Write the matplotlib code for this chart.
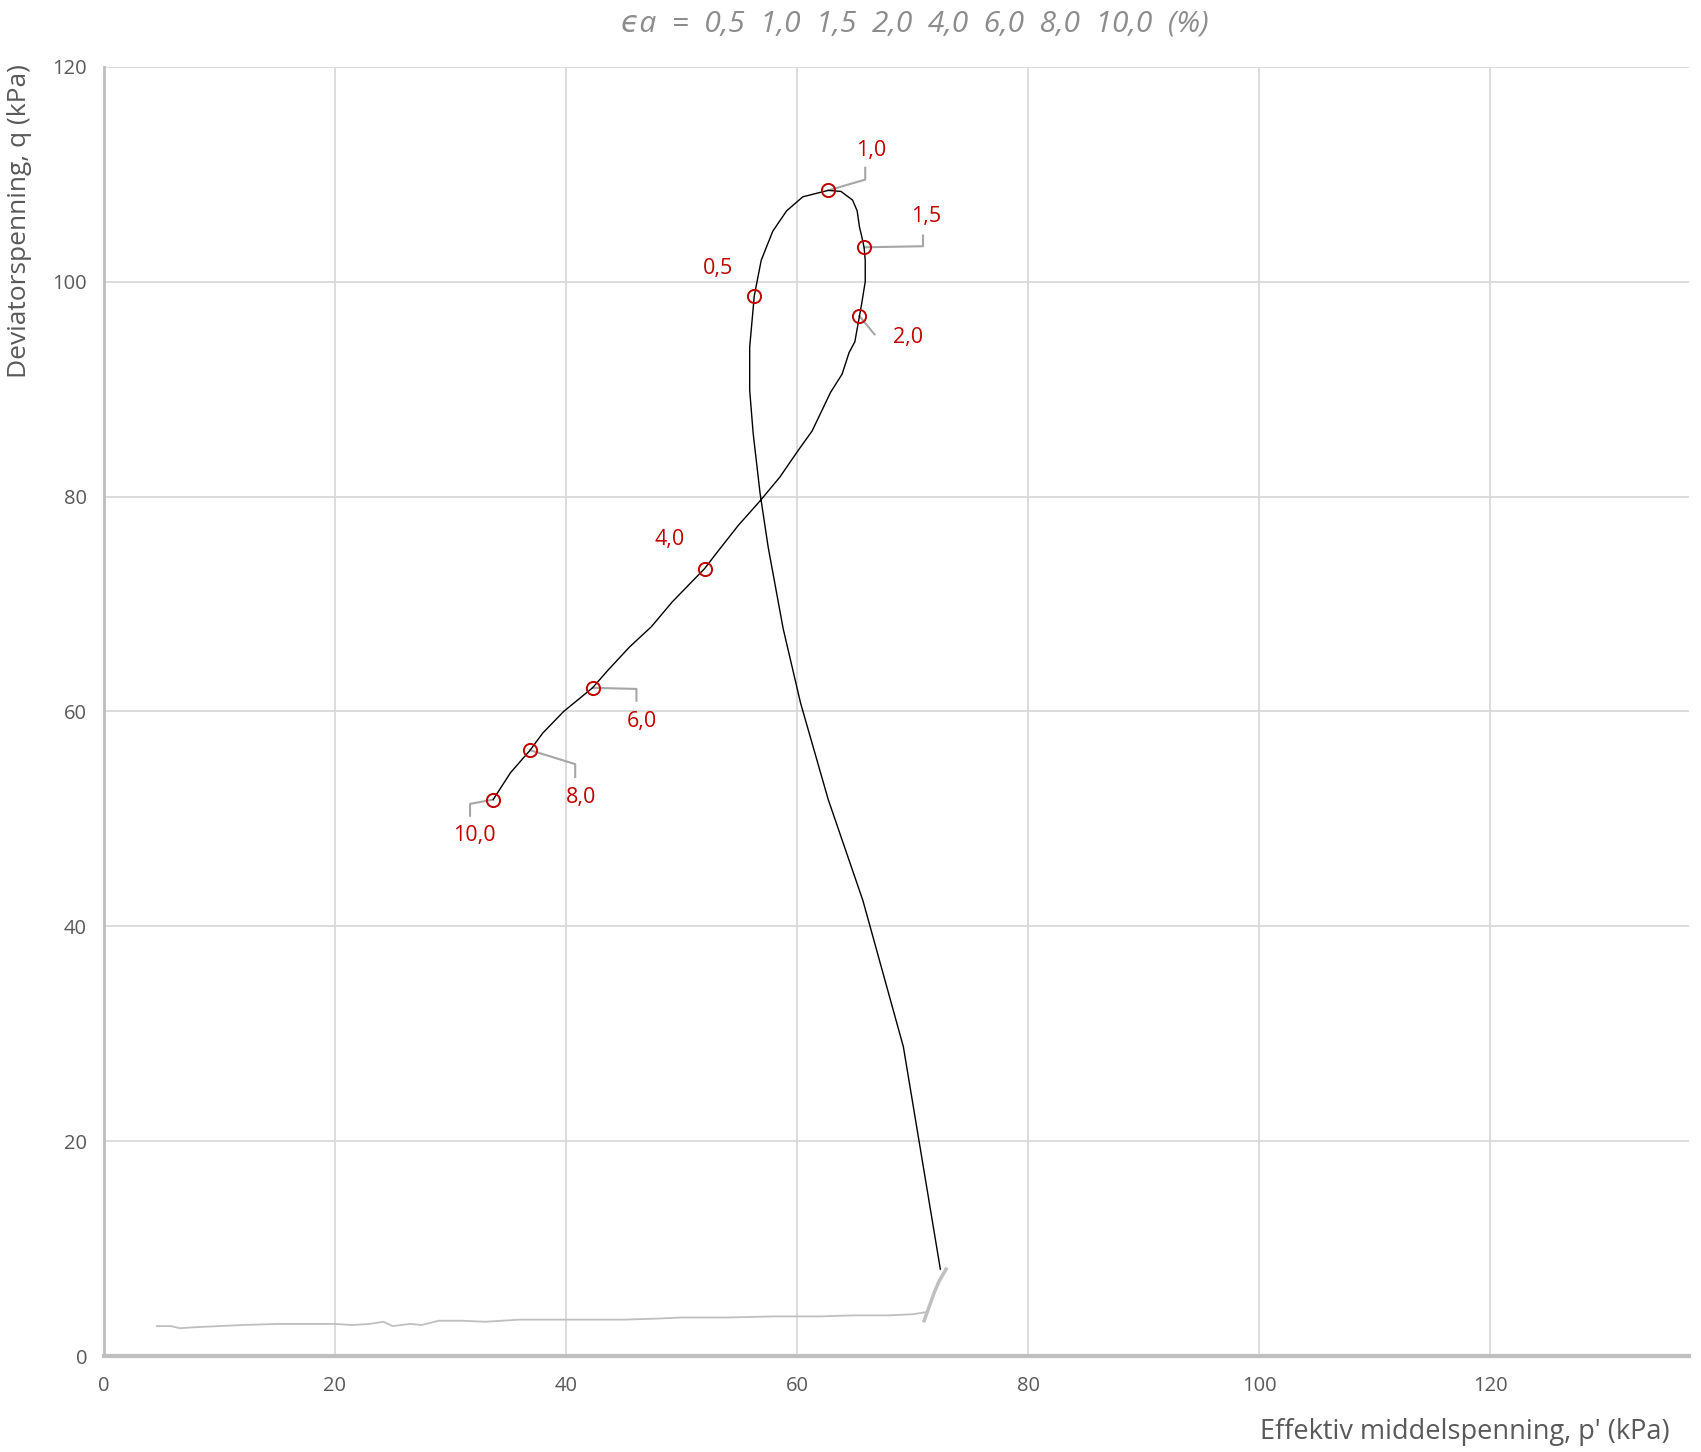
import numpy as np
import matplotlib
matplotlib.use("Agg")
from matplotlib import pyplot as plt

plt.rcParams['font.family'] = ['Open Sans', 'DejaVu Sans']

# effective stress path (black)
p_path = [72.4, 69.2, 65.7, 62.7, 60.3, 58.8, 57.5, 56.8, 56.2, 55.9, 55.9, 56.2, 56.3,
          56.9, 57.9, 59.1, 60.5, 62.7, 63.8, 64.8, 65.2, 65.4, 65.6, 65.8, 65.9, 65.9,
          65.6, 65.4, 65.0, 64.5, 63.9, 62.9, 62.1, 61.3, 60.1, 58.5, 56.8, 54.9, 53.0,
          52.0, 49.2, 47.4, 45.5, 43.6, 42.3, 39.8, 38.0, 36.9, 35.2, 33.7]
q_path = [8.1, 28.8, 42.4, 51.8, 60.8, 67.7, 75.3, 80.3, 85.9, 89.9, 93.9, 97.5, 98.7,
          102.0, 104.7, 106.6, 107.9, 108.5, 108.4, 107.6, 106.6, 105.1, 104.2, 103.2, 102.0, 100.0,
          98.0, 96.8, 94.4, 93.4, 91.4, 89.7, 87.9, 86.1, 84.3, 81.8, 79.6, 77.3, 74.7,
          73.3, 70.2, 67.9, 66.0, 63.8, 62.2, 60.0, 58.0, 56.4, 54.3, 51.8]

# consolidation phase (grey)
p_cons = [4.6, 5.8, 6.6, 8.0, 10.0, 12.0, 15.0, 18.0, 20.0, 21.5, 23.0, 24.2, 25.0,
          26.5, 27.5, 29.0, 31.0, 33.0, 36.0, 40.0, 45.0, 48.0, 50.0, 54.0, 58.0,
          62.0, 65.0, 68.0, 70.0, 71.2, 71.0, 71.5, 71.9, 72.3, 72.9]
q_cons = [2.8, 2.8, 2.6, 2.7, 2.8, 2.9, 3.0, 3.0, 3.0, 2.9, 3.0, 3.2, 2.8,
          3.0, 2.9, 3.3, 3.3, 3.2, 3.4, 3.4, 3.4, 3.5, 3.6, 3.6, 3.7,
          3.7, 3.8, 3.8, 3.9, 4.1, 3.3, 4.8, 6.0, 7.0, 8.1]

# strain markers
strain_labels = ['0,5', '1,0', '1,5', '2,0', '4,0', '6,0', '8,0', '10,0']
p_mark = [56.3, 62.7, 65.8, 65.4, 52.0, 42.3, 36.9, 33.7]
q_mark = [98.7, 108.5, 103.2, 96.8, 73.3, 62.2, 56.4, 51.8]
p_lab = [53.2, 66.4, 71.2, 69.6, 49.0, 46.6, 41.3, 32.1]
q_lab = [101.2, 112.2, 106.1, 94.8, 76.0, 59.1, 52.0, 48.5]

# leader lines (None = no leader)
leaders = [None,
           ([65.9, 65.9], [109.5, 110.6]),
           ([70.9, 70.9], [103.3, 104.3]),
           ([66.7], [95.1]),
           None,
           ([46.1, 46.1], [62.1, 61.0]),
           ([40.8, 40.8], [55.1, 53.9]),
           ([31.7, 31.7], [51.4, 50.3])]

red = '#C00000'
grid = '#D9D9D9'
axc = '#BFBFBF'
txt = '#595959'

fig = plt.figure(figsize=(17.01, 14.52), dpi=100)
ax = fig.add_axes([0.061, 0.066, 0.932, 0.888])

ax.plot(p_cons, q_cons, color='#BFBFBF', lw=1.3, zorder=2)
ax.plot(p_cons[-5:], q_cons[-5:], color='#BFBFBF', lw=2.5, zorder=2)
ax.plot(p_path, q_path, color='black', lw=1.0, zorder=3)

for i, lab in enumerate(strain_labels):
    if leaders[i] is not None:
        lx, ly = leaders[i]
        ax.plot([p_mark[i]] + lx, [q_mark[i]] + ly, color='#A6A6A6', lw=1.5, zorder=2)
    ax.text(p_lab[i], q_lab[i], lab, color=red, fontsize=15.5, ha='center', va='center', zorder=5)

ax.plot(p_mark, q_mark, 'o', mfc='none', mec=red, ms=9.5, mew=1.4, zorder=4)

ax.set_xlim(0, 137.2)
ax.set_ylim(0, 120)
ax.set_xticks(np.arange(0, 121, 20))
ax.set_yticks(np.arange(0, 121, 20))
ax.grid(True, color=grid, lw=1.3)
ax.set_axisbelow(True)
for s in ['top', 'right']:
    ax.spines[s].set_visible(False)
ax.spines['left'].set_color(axc)
ax.spines['left'].set_linewidth(2)
ax.spines['bottom'].set_color(axc)
ax.spines['bottom'].set_linewidth(3)
ax.tick_params(length=0, labelsize=14.5, labelcolor=txt, pad=12)
ax.tick_params(axis='x', pad=14)

fig.text(0.861, 0.014, "Effektiv middelspenning, p' (kPa)", fontsize=19.5, color=txt,
         ha='center', va='center')
fig.text(0.0115, 0.848, "Deviatorspenning, q (kPa)", fontsize=19, color=txt,
         ha='center', va='center', rotation=90)
fig.text(0.538, 0.9835, "\u03f5a  =  0,5  1,0  1,5  2,0  4,0  6,0  8,0  10,0  (%)",
         fontsize=21.5, color='#8C8C8C', style='italic', ha='center', va='center')

fig.savefig('out.png', dpi=100)
